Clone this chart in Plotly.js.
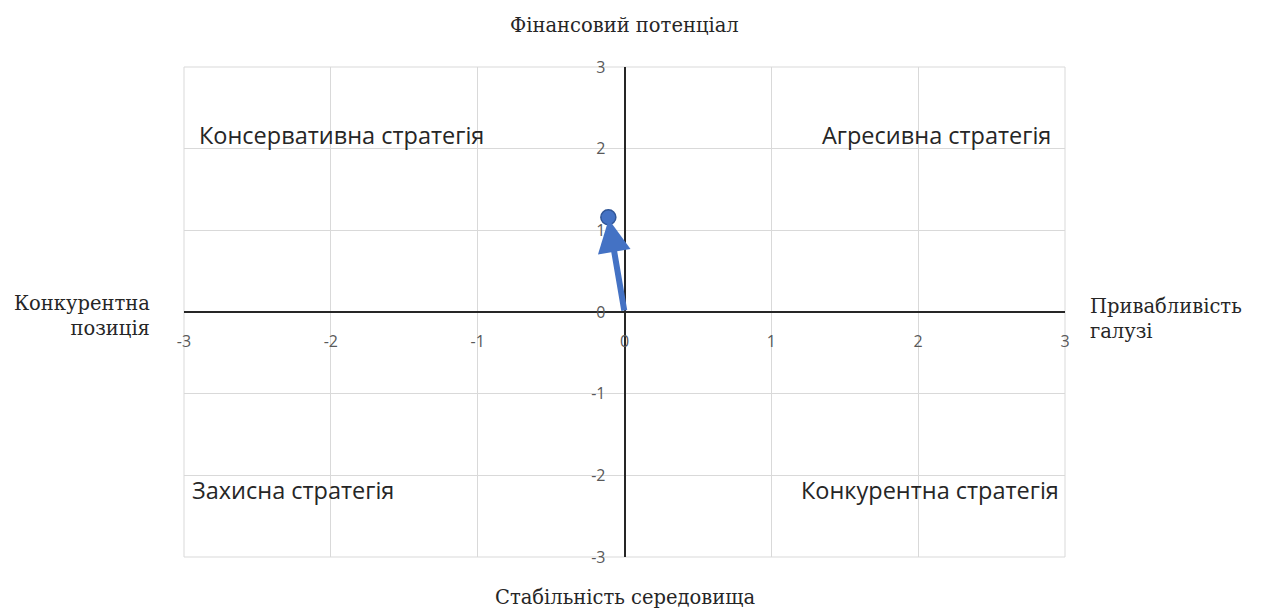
<!DOCTYPE html>
<html><head><meta charset="utf-8">
<script src="https://cdn.plot.ly/plotly-3.0.1.min.js"></script>
<style>html,body{margin:0;padding:0;background:#fff}#chart{width:1264px;height:610px}</style>
</head><body><div id="chart"></div>
<script>
const pointX = [-0.11];
const pointY = [1.16];
const originX = 0, originY = 0;
const tickVals = [-3, -2, -1, 0, 1, 2, 3];
const tickText = ['-3', '-2', '-1', '0', '1', '2', '3'];
const quadLabels = ['Консервативна стратегія', 'Агресивна стратегія', 'Захисна стратегія', 'Конкурентна стратегія'];
const quadX = [-2.91, 2.92, -2.96, 2.97];
const quadY = [2.17, 2.17, -2.18, -2.18];
const quadAnchor = ['left', 'right', 'left', 'right'];
const axisTop = 'Фінансовий потенціал';
const axisBottom = 'Стабільність середовища';
const axisLeft = 'Конкурентна<br>позиція';
const axisRight = 'Привабливість<br>галузі';

const serif = {family: 'DejaVu Serif, Liberation Serif, serif', size: 19.5, color: '#262626'};
const sans = {family: 'Open Sans, Noto Sans, sans-serif', size: 23.5, color: '#262626'};

const annotations = [];
quadLabels.forEach((t, i) => annotations.push({
  x: quadX[i], y: quadY[i], xref: 'x', yref: 'y', text: t, showarrow: false,
  xanchor: quadAnchor[i], yanchor: 'middle', font: sans
}));
annotations.push({x: 0.5, y: 1, xref: 'paper', yref: 'paper', yshift: 42, text: axisTop, showarrow: false, xanchor: 'center', yanchor: 'middle', font: serif});
annotations.push({x: 0.5, y: 0, xref: 'paper', yref: 'paper', yshift: -40, text: axisBottom, showarrow: false, xanchor: 'center', yanchor: 'middle', font: serif});
annotations.push({x: 0, y: 0, xref: 'paper', yref: 'y', xshift: -32, yshift: -4, text: axisLeft, showarrow: false, xanchor: 'right', yanchor: 'middle', align: 'right', font: serif});
annotations.push({x: 1, y: 0, xref: 'paper', yref: 'y', xshift: 23, yshift: -7, text: axisRight, showarrow: false, xanchor: 'left', yanchor: 'middle', align: 'left', font: serif});
annotations.push({
  x: pointX[0], y: pointY[0], ax: originX, ay: originY, xref: 'x', yref: 'y', axref: 'x', ayref: 'y',
  text: '', showarrow: true, arrowhead: 2, arrowsize: 1.1, arrowwidth: 6, arrowcolor: '#4472C4', standoff: 2
});

const data = [{
  x: pointX, y: pointY, type: 'scatter', mode: 'markers',
  marker: {size: 15, color: '#4472C4', line: {color: '#2F5597', width: 1.5}},
  hoverinfo: 'skip'
}];

const tickFont = {family: 'Open Sans, Noto Sans, sans-serif', size: 16, color: '#595959'};
const layout = {
  width: 1264, height: 610,
  margin: {l: 184, r: 199, t: 67, b: 53},
  paper_bgcolor: '#fff', plot_bgcolor: '#fff',
  showlegend: false,
  xaxis: {
    range: [-3, 3], tickvals: tickVals, ticktext: tickText, showgrid: true, gridcolor: '#d9d9d9', gridwidth: 1,
    zeroline: true, zerolinecolor: '#262626', zerolinewidth: 2, showline: false, ticks: '',
    anchor: 'free', position: 0.5, tickfont: tickFont, ticklabelstandoff: 18, fixedrange: true
  },
  yaxis: {
    range: [-3, 3], tickvals: tickVals, ticktext: tickText, showgrid: true, gridcolor: '#d9d9d9', gridwidth: 1,
    zeroline: true, zerolinecolor: '#262626', zerolinewidth: 2, showline: false, ticks: '',
    anchor: 'free', position: 0.5, tickfont: tickFont, ticklabelstandoff: 19, fixedrange: true
  },
  shapes: [{type: 'rect', xref: 'paper', yref: 'paper', x0: 0, x1: 1, y0: 0, y1: 1, line: {color: '#d9d9d9', width: 1}, layer: 'below'}],
  annotations: annotations
};
Plotly.newPlot('chart', data, layout, {displayModeBar: false, staticPlot: true});
</script></body></html>
